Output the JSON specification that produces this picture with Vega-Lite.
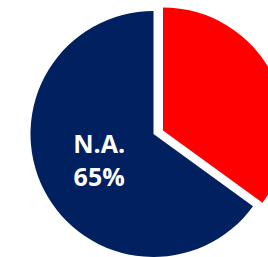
{
  "$schema": "https://vega.github.io/schema/vega-lite/v6.json",
  "autosize": "none",
  "width": 229,
  "height": 246,
  "padding": {"left": 39, "top": 11, "right": 0, "bottom": 0},
  "background": "white",
  "view": {"stroke": null},
  "data": {"values": [
    {"cat": "Other", "value": 35, "order": 1, "label": "", "pct": ""},
    {"cat": "N.A.", "value": 65, "order": 2, "label": "N.A.", "pct": "65%"}
  ]},
  "transform": [
    {"stack": "value", "groupby": [], "sort": [{"field": "order"}], "as": ["v0", "v1"]}
  ],
  "layer": [
    {
      "transform": [{"filter": "datum.cat === 'N.A.'"}],
      "mark": {"type": "arc", "radius": 123, "color": "#002060"},
      "encoding": {
        "theta": {"field": "v0", "type": "quantitative", "scale": {"domain": [0, 100]}},
        "theta2": {"field": "v1"}
      }
    },
    {
      "transform": [{"filter": "datum.cat === 'Other'"}],
      "mark": {"type": "arc", "radius": 123, "color": "#FF0000", "xOffset": 9.5, "yOffset": -3.5},
      "encoding": {
        "theta": {"field": "v0", "type": "quantitative", "scale": {"domain": [0, 100]}},
        "theta2": {"field": "v1"}
      }
    },
    {
      "mark": {"type": "text", "radius": 61, "dy": -16.5, "font": "Open Sans", "fontWeight": "bold", "fontSize": 25, "color": "white", "baseline": "middle", "align": "center"},
      "encoding": {
        "theta": {"field": "value", "type": "quantitative", "stack": true},
        "order": {"field": "order", "type": "quantitative"},
        "text": {"field": "label"}
      }
    },
    {
      "mark": {"type": "text", "radius": 61, "dy": 16.5, "font": "Open Sans", "fontWeight": "bold", "fontSize": 25, "color": "white", "baseline": "middle", "align": "center"},
      "encoding": {
        "theta": {"field": "value", "type": "quantitative", "stack": true},
        "order": {"field": "order", "type": "quantitative"},
        "text": {"field": "pct"}
      }
    }
  ]
}
